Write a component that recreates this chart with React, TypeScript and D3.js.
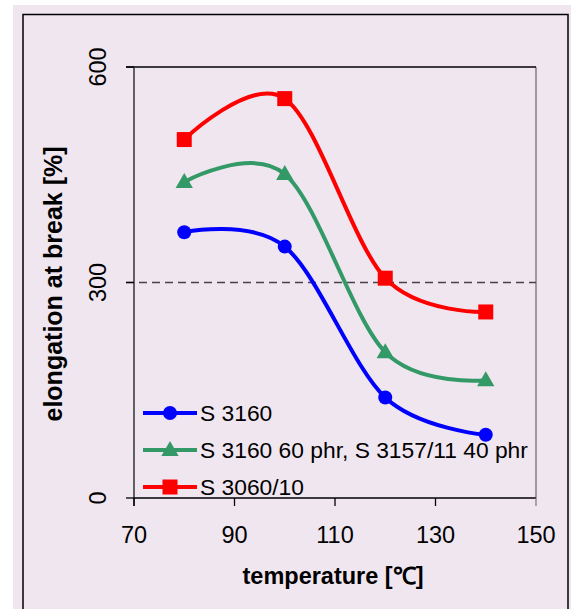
import * as d3 from 'd3';

// temperature [°C]
const temps = [80, 100, 120, 140];
const s3160 = [370, 350, 140, 88];
const blend = [440, 451, 203, 164];
const s3060 = [499, 556, 306, 259];

const xTicks = [70, 90, 110, 130, 150];
const yTicks = [0, 300, 600];

const seriesNames = ['S 3160', 'S 3160 60 phr, S 3157/11 40 phr', 'S 3060/10'];
const seriesColors = ['#0000FF', '#339966', '#FF0000'];
const seriesMarkers = ['circle', 'triangle', 'square'];

const W = 571;
const H = 609;
const margin = { top: 67, right: 35, bottom: 111, left: 134 };
const FONT = 'Liberation Sans, Arial, sans-serif';

function Marker({ kind, x, y, color }: { kind: string; x: number; y: number; color: string }) {
  if (kind === 'circle') return <circle cx={x} cy={y} r={7} fill={color} />;
  if (kind === 'square') return <rect x={x - 7.5} y={y - 7.5} width={15} height={15} fill={color} />;
  const s = d3.symbol(d3.symbolTriangle, 130)();
  return <path d={s || ''} transform={`translate(${x},${y + 1})`} fill={color} />;
}

export default function App() {
  const x = d3.scaleLinear().domain([70, 150]).range([margin.left, W - margin.right]);
  const y = d3.scaleLinear().domain([0, 600]).range([H - margin.bottom, margin.top]);
  const data = [s3160, blend, s3060];

  const line = d3
    .line<[number, number]>()
    .x((d) => x(d[0]))
    .y((d) => y(d[1]))
    .curve(d3.curveCardinal.tension(0));

  const x0 = x(70);
  const x1 = x(150);
  const yb = y(0);
  const yt = y(600);

  return (
    <svg width={W} height={H} style={{ position: 'fixed', left: 0, top: 0, display: 'block' }}>
      <rect x={0} y={0} width={W} height={H} fill='#ffffff' />
      <rect x={13} y={5} width={W - 13} height={H - 5} fill='#F0E6F0' />
      <rect x={23} y={14.5} width={545} height={H + 20} fill='none' stroke='#000' strokeWidth={1.5} />

      {/* plot frame */}
      <line x1={x1} x2={x1} y1={yt} y2={yb} stroke='#808080' strokeWidth={1.5} />
      <line x1={x0 - 8} x2={x1} y1={yt} y2={yt} stroke='#000' strokeWidth={1.3} />
      <line x1={x0 - 8} x2={x1} y1={y(300)} y2={y(300)} stroke='#444' strokeWidth={1.3} strokeDasharray='8,5' />

      {/* y axis */}
      <line x1={x0} x2={x0} y1={yt} y2={yb + 8} stroke='#333' strokeWidth={1.5} />
      {yTicks.map((t) => (
        <g key={t}>
          <line x1={x0 - 8} x2={x0} y1={y(t)} y2={y(t)} stroke='#000' strokeWidth={1.3} />
          <text
            transform={`translate(98,${y(t)}) rotate(-90)`}
            textAnchor='middle'
            dominantBaseline='central'
            fontFamily={FONT}
            fontSize={23.5}
            fill='#000'
          >
            {t}
          </text>
        </g>
      ))}

      {/* x axis */}
      <line x1={x0} x2={x1} y1={yb} y2={yb} stroke='#000' strokeWidth={1.3} />
      {xTicks.map((t) => (
        <g key={t}>
          <line x1={x(t)} x2={x(t)} y1={yb} y2={yb + 8} stroke={t === 150 ? '#808080' : '#000'} strokeWidth={1.3} />
          <text x={x(t)} y={yb + 45} textAnchor='middle' fontFamily={FONT} fontSize={23.5} fill='#000'>
            {t}
          </text>
        </g>
      ))}

      {/* titles */}
      <text x={x(110) - 2} y={584} textAnchor='middle' fontFamily={FONT} fontSize={23.5} fontWeight='bold' fill='#000'>
        temperature [℃]
      </text>
      <text
        transform={`translate(53,284) rotate(-90)`}
        textAnchor='middle'
        dominantBaseline='central'
        fontFamily={FONT}
        fontSize={25}
        fontWeight='bold'
        fill='#000'
      >
        elongation at break [%]
      </text>

      {/* series */}
      {data.map((vals, i) => {
        const pts = temps.map((t, j) => [t, vals[j]] as [number, number]);
        return (
          <g key={i}>
            <path d={line(pts) || ''} fill='none' stroke={seriesColors[i]} strokeWidth={4} />
            {pts.map((p, j) => (
              <Marker key={j} kind={seriesMarkers[i]} x={x(p[0])} y={y(p[1])} color={seriesColors[i]} />
            ))}
          </g>
        );
      })}

      {/* legend */}
      {seriesNames.map((name, i) => {
        const cy = 413 + i * 37;
        return (
          <g key={name}>
            <line x1={143} x2={197} y1={cy} y2={cy} stroke={seriesColors[i]} strokeWidth={4} />
            <Marker kind={seriesMarkers[i]} x={170} y={cy} color={seriesColors[i]} />
            <text x={200} y={cy + 8} fontFamily={FONT} fontSize={22.8} fill='#000'>
              {name}
            </text>
          </g>
        );
      })}
    </svg>
  );
}
